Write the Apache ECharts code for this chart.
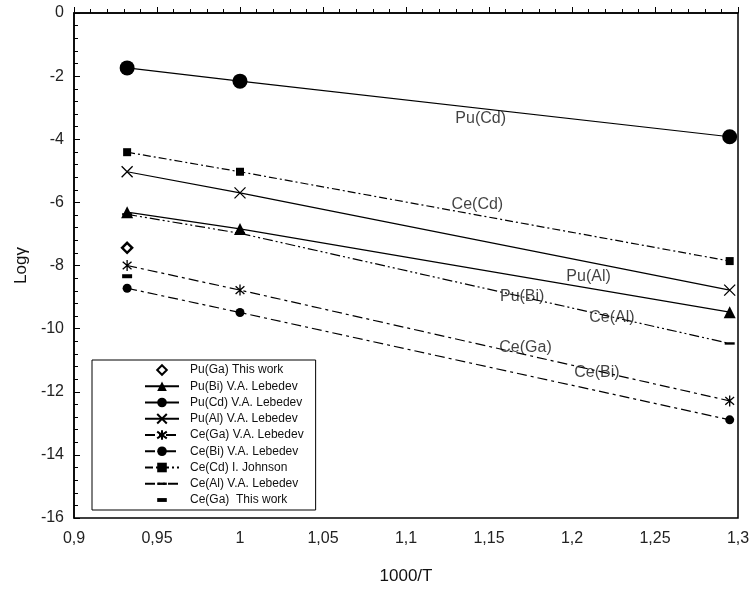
<!DOCTYPE html>
<html>
<head>
<meta charset="utf-8">
<script src="https://cdn.jsdelivr.net/npm/echarts@6/dist/echarts.min.js"></script>
<style>
  html, body { margin: 0; padding: 0; background: #fff; }
  #chart { width: 754px; height: 590px; }
</style>
</head>
<body>
<div id="chart"></div>
<script>
// 数据 (1000/T 与 Logγ)
const xVals = [0.932, 1.0, 1.295];
const puBi = [-6.31, -6.84, -9.48];
const puCd = [-1.74, -2.16, -3.92];
const puAl = [-5.03, -5.70, -8.78];
const ceGa = [-8.0, -8.78, -12.29];
const ceBi = [-8.72, -9.49, -12.89];
const ceCd = [-4.41, -5.03, -7.86];
const ceAl = [-6.38, -6.98, -10.47];
const puGaThisWork = [[0.932, -7.44]];
const ceGaThisWork = [[0.932, -8.34]];

const xTicks = [0.9, 0.95, 1, 1.05, 1.1, 1.15, 1.2, 1.25, 1.3];

// 曲线标注
const labelNames = ['Pu(Cd)', 'Ce(Cd)', 'Pu(Al)', 'Pu(Bi)', 'Ce(Al)', 'Ce(Ga)', 'Ce(Bi)'];
const labelX = [1.145, 1.143, 1.210, 1.170, 1.224, 1.172, 1.215];
const labelY = [-3.34, -6.07, -8.34, -8.97, -9.64, -10.6, -11.4];

const FONT = 'Liberation Sans, Arial, sans-serif';

// 符号 (带透明外框，使图例中保持比例)
const xMark = 'path://M0,0L10,10M10,0L0,10';
const starMark = 'path://M5,0L5,10M1,1.5L9,8.5M9,1.5L1,8.5';
const dashMark = 'path://M0,0M0,10M0,3.8L10,3.8L10,6.2L0,6.2Z';
const thickDash = 'path://M0,0M0,10M0,3L10,3L10,7L0,7Z';

function pairs(ys) {
    return xVals.map((x, i) => [x, ys[i]]);
}

function lineSeries(name, ys, symbol, size, dash, strokeOnly) {
    return {
        name: name,
        type: 'line',
        data: pairs(ys),
        symbol: symbol,
        symbolSize: size,
        symbolKeepAspect: true,
        showSymbol: true,
        lineStyle: { color: '#000', width: 1.2, type: dash || 'solid' },
        itemStyle: strokeOnly
            ? { color: 'transparent', borderColor: '#000', borderWidth: 1.3 }
            : { color: '#000', borderWidth: 0 },
        emphasis: { disabled: true },
        z: 3
    };
}

const series = [
    {
        name: 'Pu(Ga) This work',
        type: 'line',
        data: puGaThisWork,
        symbol: 'diamond',
        symbolSize: 10,
        lineStyle: { opacity: 0 },
        itemStyle: { color: '#fff', borderColor: '#000', borderWidth: 2.5 },
        emphasis: { disabled: true },
        z: 4
    },
    lineSeries('Pu(Bi) V.A. Lebedev', puBi, 'triangle', 12, 'solid', false),
    lineSeries('Pu(Cd) V.A. Lebedev', puCd, 'circle', 15, 'solid', false),
    lineSeries('Pu(Al) V.A. Lebedev', puAl, xMark, 11, 'solid', true),
    lineSeries('Ce(Ga) V.A. Lebedev', ceGa, starMark, 11, [10, 4, 3, 4], true),
    lineSeries('Ce(Bi) V.A. Lebedev', ceBi, 'circle', 9, [10, 4, 3, 4], false),
    lineSeries('Ce(Cd) I. Johnson', ceCd, 'rect', 8, [8, 3, 2, 3], false),
    lineSeries('Ce(Al) V.A. Lebedev', ceAl, dashMark, 10, [10, 3, 2, 3, 2, 3], false),
    {
        name: 'Ce(Ga)  This work',
        type: 'line',
        data: ceGaThisWork,
        symbol: thickDash,
        symbolSize: 10,
        symbolKeepAspect: true,
        lineStyle: { opacity: 0 },
        itemStyle: { color: '#000' },
        emphasis: { disabled: true },
        z: 4
    },
    {
        name: 'labels',
        type: 'scatter',
        data: labelNames.map((n, i) => ({ name: n, value: [labelX[i], labelY[i]] })),
        symbolSize: 0,
        silent: true,
        label: {
            show: true,
            position: 'inside',
            formatter: '{b}',
            fontFamily: FONT,
            fontSize: 16,
            color: '#111'
        },
        z: 5
    }
];

const chart = echarts.init(document.getElementById('chart'));
chart.setOption({
    animation: false,
    backgroundColor: '#fff',
    grid: {
        left: 74, right: 16, top: 13, bottom: 70,
        show: true, borderColor: '#000', borderWidth: 1.5, backgroundColor: 'transparent'
    },
    legend: {
        data: series.filter(s => s.name !== 'labels').map(s => s.name),
        orient: 'vertical',
        left: 92,
        top: 360,
        itemWidth: 34,
        itemHeight: 12,
        itemGap: 4.25,
        padding: [4, 12, 4, 52],
        borderColor: '#000',
        borderWidth: 1,
        backgroundColor: '#fff',
        selectedMode: false,
        textStyle: { fontFamily: FONT, fontSize: 12, color: '#111', padding: [0, 0, 0, 6] }
    },
    xAxis: {
        type: 'value',
        min: 0.9,
        max: 1.3,
        interval: 0.05,
        name: '1000/T',
        nameLocation: 'middle',
        nameGap: 50,
        nameTextStyle: { fontFamily: FONT, fontSize: 17, color: '#111' },
        axisLine: { lineStyle: { color: '#000', width: 1.5 } },
        axisTick: { inside: true, length: 6, lineStyle: { color: '#000' } },
        minorTick: { show: true, splitNumber: 5, length: 4, lineStyle: { color: '#000' } },
        splitLine: { show: false },
        axisLabel: {
            fontFamily: FONT, fontSize: 16, color: '#222', margin: 13,
            formatter: v => {
                const t = xTicks.find(k => Math.abs(k - v) < 1e-6);
                return String(t === undefined ? v : t).replace('.', ',');
            }
        }
    },
    yAxis: {
        type: 'value',
        min: -16,
        max: 0,
        interval: 2,
        name: 'Logγ',
        nameLocation: 'middle',
        nameRotate: 90,
        nameGap: 44,
        nameTextStyle: { fontFamily: FONT, fontSize: 17, color: '#111' },
        axisLine: { lineStyle: { color: '#000', width: 1.5 } },
        axisTick: { inside: true, length: 6, lineStyle: { color: '#000' } },
        minorTick: { show: true, splitNumber: 5, length: 4, lineStyle: { color: '#000' } },
        splitLine: { show: false },
        axisLabel: { fontFamily: FONT, fontSize: 16, color: '#222', margin: 10 }
    },
    series: series
});
</script>
</body>
</html>
